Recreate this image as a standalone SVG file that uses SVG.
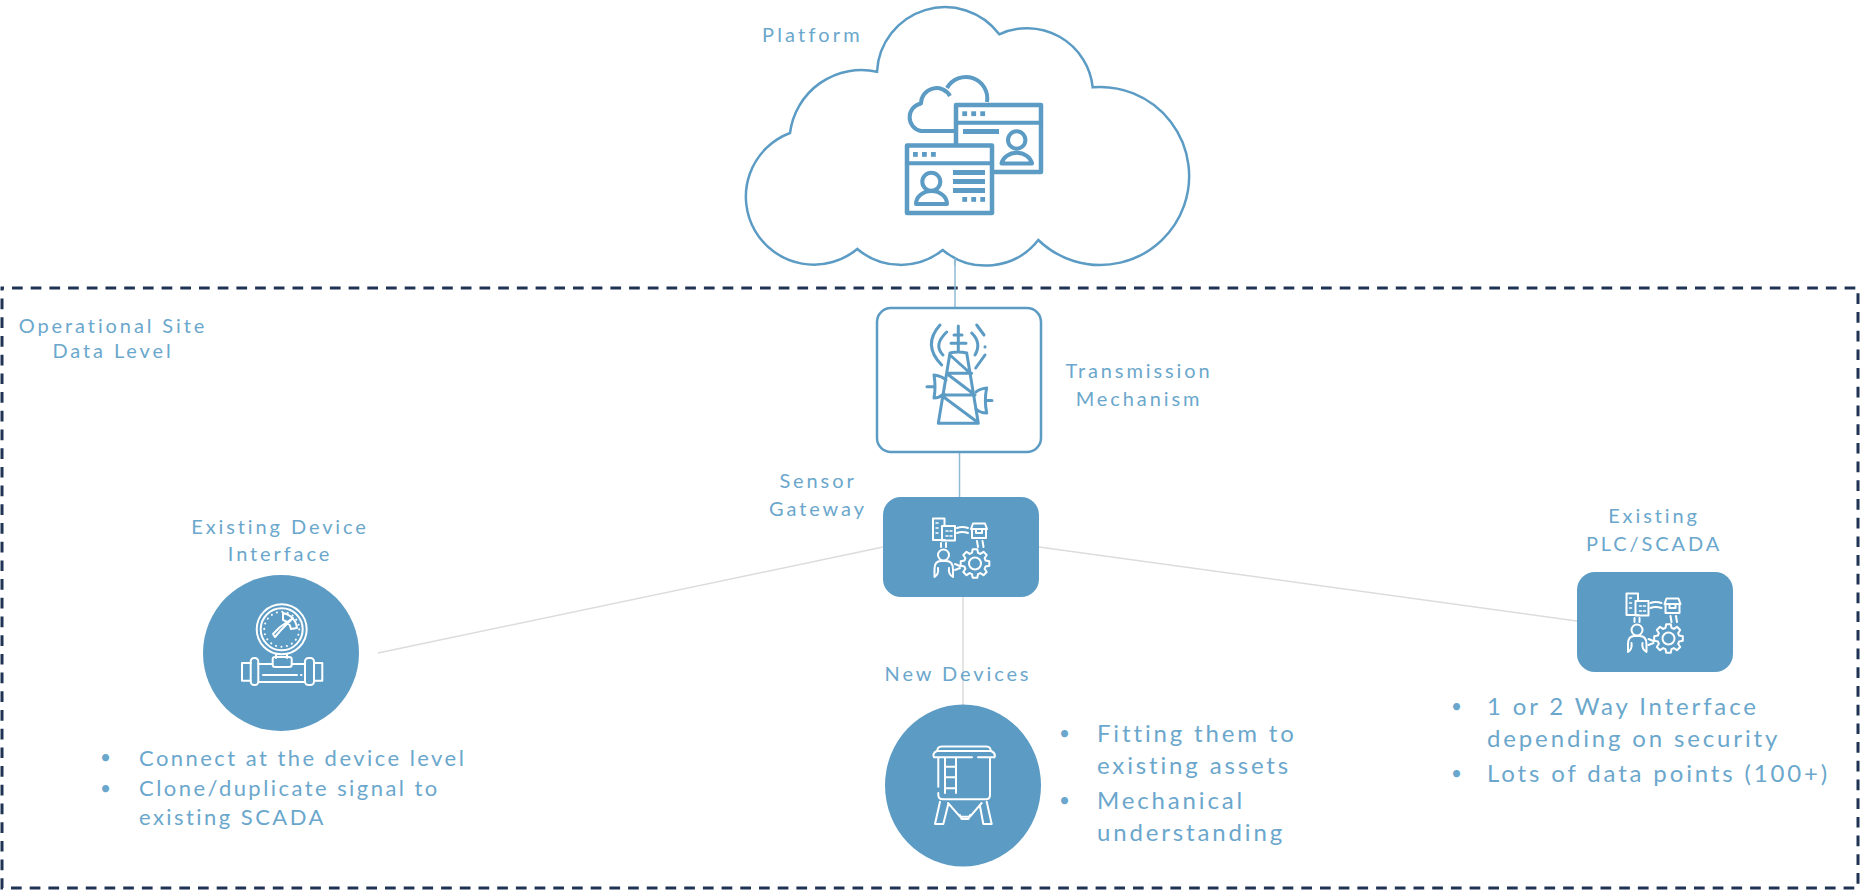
<svg xmlns="http://www.w3.org/2000/svg" width="1865" height="893" viewBox="0 0 1865 893">
<style>
text{font-family:"Lato","Noto Sans","Liberation Sans",sans-serif;fill:#6ba7cc}
.l{font-size:20px;letter-spacing:2.9px;text-anchor:middle}
.b{font-size:24px;letter-spacing:2.85px}
.bs{font-size:22px;letter-spacing:2.45px}
.u{font-size:19px}
.i{fill:none;stroke:#5b9bc4;stroke-linecap:round;stroke-linejoin:round}
.w{fill:none;stroke:#fff;stroke-width:2;stroke-linecap:round;stroke-linejoin:round}
.d{fill:#5b9bc4}
.n{fill:#5b9bc4}
</style>
<defs>
<g id="robot">
<path class="w" d="M945 540H933V518.500H944.500V526M942 526H955V540.500H942Z"/>
<path class="w" d="M936 523h2M936 528h2M936 533h2M946 531h2M950 531h2M946 536h2M950 536h2" style="stroke-width:1.500"/>
<path class="w" d="M957 528Q962 526 968 528M957 533Q962 531 968 533"/>
<path class="w" d="M972 529V538H986V529M971 529L973 523.500H985L987 529ZM976 529V533H982V529"/>
<path class="w" d="M941 543V547M946 543V547M977 541L978 547M982.500 541L983.500 547"/>
<circle class="w" cx="943.500" cy="555" r="5.500"/>
<path class="w" d="M934.500 577V569Q934.500 561 941 561H946Q953 561 953 569V577M934.500 577Q939 574 938 568M953 577Q948 574 949 568"/>
<path class="w" d="M955 564L960 566M955 570L960 568"/>
<path class="w" transform="translate(975 563.500)" d="M10.600 -3L14.300 -2.300L14.300 2.300L10.600 3L9.600 5.300L11.700 8.500L8.500 11.700L5.300 9.600L3 10.600L2.300 14.300L-2.300 14.300L-3 10.600L-5.300 9.600L-8.500 11.700L-11.700 8.500L-9.600 5.300L-10.600 3L-14.300 2.300L-14.300 -2.300L-10.600 -3L-9.600 -5.300L-11.700 -8.500L-8.500 -11.700L-5.300 -9.600L-3 -10.600L-2.300 -14.300L2.300 -14.300L3 -10.600L5.300 -9.600L8.500 -11.700L11.700 -8.500L9.600 -5.300Z"/>
<circle class="w" cx="975" cy="563.500" r="6"/>
</g>
</defs>
<g id="site-boundary"><rect x="2" y="288" width="1856" height="600" fill="none" stroke="#1f3354" stroke-width="3" stroke-dasharray="10.700 8" stroke-dashoffset="8.700"/></g>
<g id="connectors" fill="none">
<path d="M955 258V308M959.500 452V497" stroke="#8fbbd6" stroke-width="1.500"/>
<path d="M883 547L378 653M1039 547L1577 621M963 597V705" stroke="#dcdcdc" stroke-width="1.500"/>
</g>
<g id="platform">
<path d="M790 133A72 72 0 0 1 877 71.700A68 68 0 0 1 999.300 34.300A66 66 0 0 1 1092.700 87.300A89 89 0 1 1 1038.300 240A67 67 0 0 1 942.700 250A67 67 0 0 1 857.300 249A68 68 0 1 1 790 133Z" fill="#fff" stroke="#5b9bc4" stroke-width="2.500"/>
<path d="M955 258V266" stroke="#8fbbd6" stroke-width="1.500"/>
<path class="i" stroke-width="4" d="M954 131H921A14 14 0 0 1 921 103.500A15.500 15.500 0 0 1 950 96M947 88A21.500 21.500 0 0 1 987 102" style="stroke-linecap:butt"/>
<rect x="956" y="105" width="85" height="67" class="i" stroke-width="4.500" style="fill:#fff"/>
<path class="i" stroke-width="4" d="M956 122.700H1041"/>
<rect class="d" x="962.300" y="111.300" width="4.800" height="4.800"/><rect class="d" x="971.300" y="111.300" width="4.800" height="4.800"/><rect class="d" x="980.300" y="111.300" width="4.800" height="4.800"/>
<rect class="d" x="963" y="129" width="36" height="5"/>
<circle class="i" cx="1016.700" cy="140" r="8.700" stroke-width="4"/>
<path class="i" stroke-width="4" d="M1001.500 163.500A15.500 13 0 0 1 1032 163.500Z"/>
<rect x="907" y="145.500" width="85" height="67.500" class="i" stroke-width="4.500" style="fill:#fff"/>
<path class="i" stroke-width="4" d="M907 163.300H992"/>
<rect class="d" x="913" y="152" width="4.800" height="4.800"/><rect class="d" x="922" y="152" width="4.800" height="4.800"/><rect class="d" x="931" y="152" width="4.800" height="4.800"/>
<rect class="d" x="953" y="170" width="32" height="5"/><rect class="d" x="953" y="179" width="32" height="5"/><rect class="d" x="953" y="188" width="32" height="5"/>
<rect class="d" x="962.300" y="197" width="4.800" height="4.800"/><rect class="d" x="971.300" y="197" width="4.800" height="4.800"/><rect class="d" x="980.300" y="197" width="4.800" height="4.800"/>
<circle class="i" cx="931.300" cy="181.700" r="9" stroke-width="4"/>
<path class="i" stroke-width="4" d="M916 204A15.500 13 0 0 1 947 204Z"/>
<text x="762" y="42" style="font-size:20px;letter-spacing:3.200px">Platform</text>
</g>
<g id="transmission">
<rect x="877" y="308" width="164" height="144" rx="14" fill="#fff" stroke="#5b9bc4" stroke-width="2.500"/>
<path class="i" stroke-width="3" d="M958.300 326V352M951 343.300H966M954 335H962M950 353Q958 351 966.700 353M950 353L938.300 423.300H978.300L966.700 353M947.500 373.300H971.700M943.300 395H975M950 355L970 373M947.300 374L975 395M943.300 396.700L978.300 422.700"/>
<path class="i" stroke-width="3" d="M940 325Q922 345 941.700 365M946.700 332Q933 345 943 355M976.700 325L984 335M985 346.700V347M985 355L975.700 368M971.700 333Q982 343 975 355"/>
<path class="i" stroke-width="3" d="M934 375Q942 376 946 380M944 394Q939 398 934 398Q936 387 934 375M927 386.700H935M986.700 388Q979 389 976 392M976 409Q980 413 986.700 413Q984 400 986.700 388M986 400.500H992"/>
<text class="l" x="1139" y="378">Transmission</text><text class="l" x="1139" y="406">Mechanism</text>
</g>
<g id="sensor-gateway">
<rect x="883" y="497" width="156" height="100" rx="18" class="n"/>
<use href="#robot"/>
<text class="l" x="818" y="488">Sensor</text><text class="l" x="818" y="516">Gateway</text>
</g>
<g id="existing-plc">
<rect x="1577" y="572" width="156" height="100" rx="18" class="n"/>
<use href="#robot" transform="translate(693.500 75)"/>
<text class="l" x="1654" y="523">Existing</text><text class="l" x="1654" y="551">PLC/SCADA</text>
<text class="u" x="1451" y="713">•</text><text class="b" x="1487" y="715">1 or 2 Way Interface</text><text class="b" x="1487" y="747">depending on security</text><text class="u" x="1451" y="780">•</text><text class="b" x="1487" y="782">Lots of data points (100+)</text>
</g>
<g id="existing-device">
<circle cx="281" cy="653" r="78" class="n"/>
<circle class="w" cx="281.700" cy="629.300" r="25"/><circle class="w" cx="281.700" cy="629.300" r="21"/>
<circle class="w" cx="281.700" cy="629.300" r="17.500" stroke-dasharray="0.100 5.400"/>
<path class="w" d="M283 613A17 17 0 0 1 297 628L291 629A11 11 0 0 0 283 620ZM293 618L281 630L275 637L273 634L280 627Z"/>
<path class="w" d="M276 654.500V658M287 654.500V658M272.700 659Q272.700 657 275 657H289Q291.700 657 291.700 659V665Q291.700 667 289 667H275Q272.700 667 272.700 665ZM258.300 664H272.700M291.700 664H305M258.300 682H305M263 675H297M301 675H301.500"/>
<rect class="w" x="250.700" y="658" width="7.600" height="27" rx="3.500"/><rect class="w" x="305" y="658" width="9" height="27" rx="3.500"/>
<path class="w" d="M250.700 663H242V680.700H250.700M314 663H322.300V680.700H314"/>
<text class="l" x="280" y="534">Existing Device</text><text class="l" x="280" y="561">Interface</text>
<text class="u" x="100" y="764">•</text><text class="bs" x="139" y="766">Connect at the device level</text><text class="u" x="100" y="795">•</text><text class="bs" x="139" y="796">Clone/duplicate signal to</text><text class="bs" x="139" y="825">existing SCADA</text>
</g>
<g id="new-devices">
<ellipse cx="963" cy="785.500" rx="78" ry="81" class="n"/>
<path class="w" d="M934 757.300Q932 753 937 751L938 748Q939 746.500 942 746.500H986Q989 746.500 990 748L991 751Q996 753 994.500 757.300H978M972 757.300H934M938.300 757.300V786.700M938.300 793V795Q938.300 799.300 943 799.300H986Q990 799.300 990 795V757.300M938 751H991M945 757.300V793M956 757.300V793M945 766.700H956M945 777.300H956M945 788.300H956"/>
<path class="w" d="M948 803L960 816.700H970L981.700 803M960 815L961.500 819H968.500L970 815M940 801.700L935 824H943.300L948.300 804M986.700 801.700L991.700 824H983.300L980 806"/>
<text class="l" x="958" y="681">New Devices</text>
<text class="u" x="1059" y="740">•</text><text class="b" x="1097" y="742">Fitting them to</text><text class="b" x="1097" y="774">existing assets</text><text class="u" x="1059" y="807">•</text><text class="b" x="1097" y="809">Mechanical</text><text class="b" x="1097" y="841">understanding</text>
</g>
<g id="site-label"><text class="l" x="113" y="333">Operational Site</text><text class="l" x="113" y="358">Data Level</text></g>
</svg>
